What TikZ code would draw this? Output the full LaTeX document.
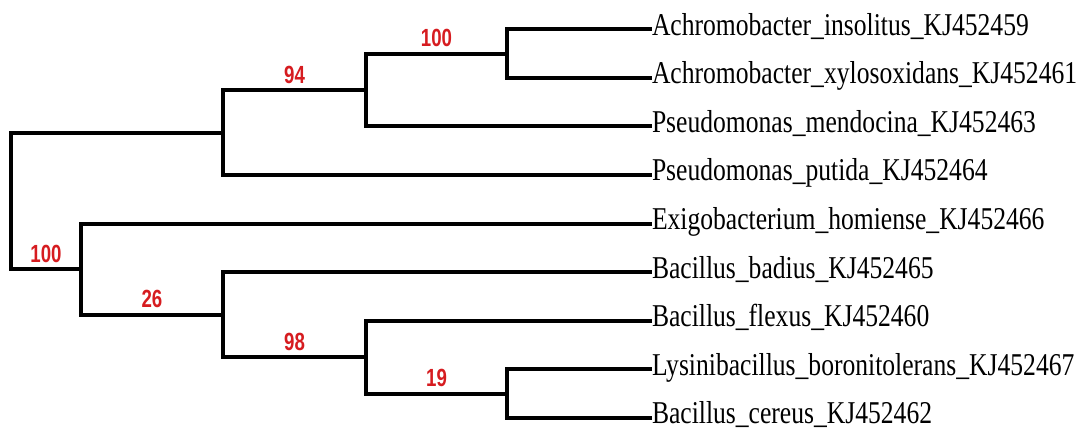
\documentclass[tikz,border=0pt]{standalone}
\usepackage{fontspec}
\setmainfont{Liberation Serif}
\newfontfamily\bootfont{Liberation Sans}
\usepackage{graphicx}
\usetikzlibrary{positioning,calc}
\definecolor{bootred}{RGB}{214,28,32}
\tikzset{
  branch/.style={line width=3pt,line join=miter},
  taxon/.style={anchor=west,inner sep=0pt,outer sep=0pt,text height=12pt,text depth=3.4pt,font=\fontsize{19.2}{19.2}\selectfont},
  boot/.style={anchor=south,inner sep=0pt,text depth=0pt,yshift=4.9pt,text=bootred,font=\bootfont\bfseries\fontsize{14}{14}\selectfont}
}
\newcommand{\tall}[2][1.24]{\scalebox{1}[#1]{#2}}

\begin{document}
\begin{tikzpicture}[x=0.75pt,y=-0.75pt]
   \useasboundingbox (0,0) rectangle (1085,434);
   % taxa
   \foreach \name/\txt [count=\i] in {
      ains/Achromobacter\_insolitus\_KJ452459,
      axyl/Achromobacter\_xylosoxidans\_KJ452461,
      pmen/Pseudomonas\_mendocina\_KJ452463,
      pput/Pseudomonas\_putida\_KJ452464,
      ehom/Exigobacterium\_homiense\_KJ452466,
      bbad/Bacillus\_badius\_KJ452465,
      bfle/Bacillus\_flexus\_KJ452460,
      lbor/Lysinibacillus\_boronitolerans\_KJ452467,
      bcer/Bacillus\_cereus\_KJ452462}
      \node[taxon] (\name) at (652,{29.3+48.6*(\i-1)}) {\tall{\txt}};
   % inner nodes
   \coordinate (achro)  at (507,53.6);
   \coordinate (achpm)  at (366,90.0);
   \coordinate (proteo) at (223,132.6);
   \coordinate (bcl)    at (507,393.8);
   \coordinate (bfl)    at (366,357.4);
   \coordinate (bac)    at (223,314.8);
   \coordinate (firm)   at (81,269.3);
   \coordinate (root)   at (11,200.9);
   % branches
   \draw[branch] (achro) |- (ains.west) (achro) |- (axyl.west);
   \draw[branch] (achpm) |- (achro) (achpm) |- (pmen.west);
   \draw[branch] (proteo) |- (achpm) (proteo) |- (pput.west);
   \draw[branch] (bcl) |- (lbor.west) (bcl) |- (bcer.west);
   \draw[branch] (bfl) |- (bfle.west) (bfl) |- (bcl);
   \draw[branch] (bac) |- (bbad.west) (bac) |- (bfl);
   \draw[branch] (firm) |- (ehom.west) (firm) |- (bac);
   \draw[branch] (root) |- (proteo) (root) |- (firm);
   % bootstrap values
   \path (achpm |- achro) -- (achro) node[boot,midway] (sachro) {\tall[1.33]{100}};
   \path (proteo |- achpm) -- (achpm) node[boot,midway] (sachpm) {\tall[1.33]{94}};
   \path (root |- firm) -- (firm) node[boot,midway] (sfirm) {\tall[1.33]{100}};
   \path (firm |- bac) -- (bac) node[boot,midway] (sbac) {\tall[1.33]{26}};
   \path (bac |- bfl) -- (bfl) node[boot,midway] (sbfl) {\tall[1.33]{98}};
   \path (bfl |- bcl) -- (bcl) node[boot,midway] (sbcl) {\tall[1.33]{19}};
\end{tikzpicture}
\end{document}
